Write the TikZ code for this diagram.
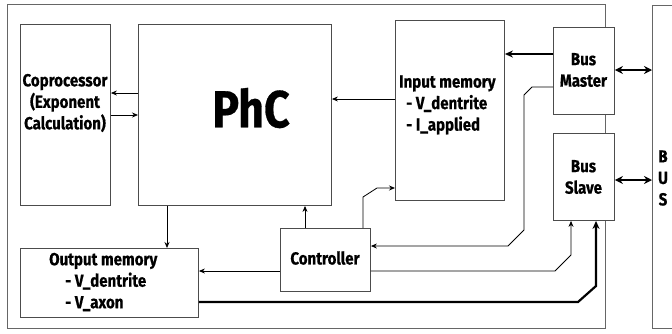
\documentclass[tikz,border=0pt]{standalone}
\usepackage{fontspec}
\setmainfont{Fira Sans}[FakeStretch=0.86, BoldFeatures={FakeBold=0.6}]
\usetikzlibrary{arrows.meta}
\tikzset{
  box/.style={draw=black!70, line width=0.9pt, fill=white, inner sep=0pt, anchor=north west},
  txt/.style={font=\bfseries\fontsize{17.5}{21.5}\selectfont, inner sep=0pt},
  thinarr/.style={-{Stealth[length=6pt,width=5pt]}, line width=0.8pt},
  thickarr/.style={-{Stealth[length=8pt,width=7pt]}, line width=2.2pt},
  dblarr/.style={{Stealth[length=8pt,width=8pt]}-{Stealth[length=8pt,width=8pt]}, line width=2.2pt},
  framecol/.style={draw=black!60, line width=0.9pt}
}
\begin{document}
\begin{tikzpicture}[x=1pt,y=-1pt]
\useasboundingbox (0,0) rectangle (672,333);
\clip (0,0) rectangle (672,333);
% outer frame and bus
\draw[framecol] (7,4) rectangle (605,328);
\draw[framecol] (690,5) -- (652,5) -- (652,328) -- (690,328);
% boxes
\node[box, minimum width=90pt, minimum height=181pt] (cop) at (20,24) {};
\node[box, minimum width=193pt, minimum height=181pt] (phc) at (138,24) {};
\node[box, minimum width=109pt, minimum height=180pt] (inm) at (395,20) {};
\node[box, minimum width=61pt, minimum height=87pt] (bm) at (553,27) {};
\node[box, minimum width=61pt, minimum height=87pt] (bs) at (553,133) {};
\node[box, minimum width=90pt, minimum height=63pt] (ctrl) at (280,228) {};
\node[box, minimum width=178pt, minimum height=69pt] (outm) at (20,248) {};
% texts
\node[txt, align=center] (copt) at (65,103) {Coprocessor\\(Exponent\\Calculation)};
\node[txt, font=\bfseries\fontsize{52}{56}\selectfont] (phct) at (251,108) {PhC};
\node[txt, align=left, anchor=west] (inmt) at (399,105) {Input memory\\\hspace{7pt}- V\_dentrite\\\hspace{7pt}- I\_applied};
\node[txt, align=center] (bmt) at (583.5,70) {Bus\\Master};
\node[txt, align=center] (bst) at (583.5,177) {Bus\\Slave};
\node[txt] (ctrlt) at (325,258) {Controller};
\node[txt, align=left, anchor=west] (outmt) at (49,282) {Output memory\\\hspace{16pt}- V\_dentrite\\\hspace{16pt}- V\_axon};
\node[txt, align=center] (bust) at (663,178) {B\\U\\S};
\coordinate (busw) at (652,100);
% connectors
\draw[thinarr] (phc.west |- 0,93) -- (cop.east |- 0,93);
\draw[thinarr] (cop.east |- 0,115) -- (phc.west |- 0,115);
\draw[thinarr] (inm.west |- 0,99) -- (phc.east |- 0,99);
\draw[thickarr] (bm.west |- 0,54) -- (inm.east |- 0,54);
\draw[dblarr] (bm.east |- 0,70) -- (busw |- 0,70);
\draw[dblarr] (bs.east |- 0,180) -- (busw |- 0,180);
\draw[thinarr] (bm.west |- 0,87) -- (532,87) -- (524,95) -- (524,230) -- (508,246) -- (ctrl.east |- 0,246);
\draw[thinarr] (ctrl.north -| 363,0) -- (363,197) -- (377,188) -- (inm.west |- 0,188);
\draw[thinarr] (ctrl.north -| 305,0) -- (phc.south -| 305,0);
\draw[thinarr] (phc.south -| 167,0) -- (outm.north -| 167,0);
\draw[thinarr] (ctrl.west |- 0,271) -- (outm.east |- 0,271);
\draw[thinarr] (ctrl.east |- 0,271) -- (555,271) -- (571,255) -- (bs.south -| 571,0);
\draw[thickarr] (outm.east |- 0,302) -- (578,302) -- (596,286) -- (bs.south -| 596,0);
\end{tikzpicture}
\end{document}
